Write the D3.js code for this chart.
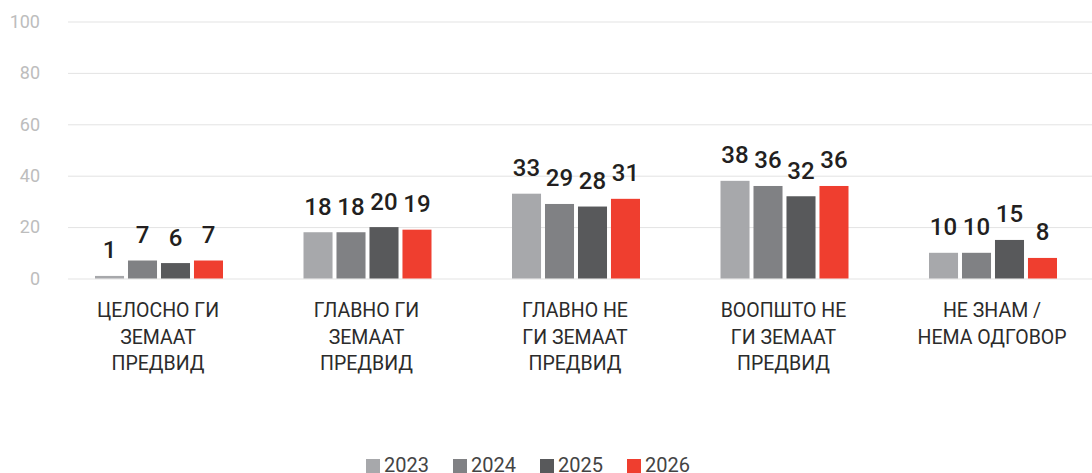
<!DOCTYPE html>
<html>
<head>
<meta charset="utf-8">
<script src="https://cdn.jsdelivr.net/npm/d3@7/dist/d3.min.js"></script>
<style>
  html, body { margin: 0; padding: 0; background: #fff; }
  svg { display: block; font-family: Roboto, "Noto Sans", sans-serif; }
</style>
</head>
<body>
<svg id="chart" width="1092" height="473"></svg>
<script>
const categories = [
  ["ЦЕЛОСНО ГИ", "ЗЕМААТ", "ПРЕДВИД"],
  ["ГЛАВНО ГИ", "ЗЕМААТ", "ПРЕДВИД"],
  ["ГЛАВНО НЕ", "ГИ ЗЕМААТ", "ПРЕДВИД"],
  ["ВООПШТО НЕ", "ГИ ЗЕМААТ", "ПРЕДВИД"],
  ["НЕ ЗНАМ /", "НЕМА ОДГОВОР"]
];
const seriesNames = ["2023", "2024", "2025", "2026"];
const values2023 = [1, 18, 33, 38, 10];
const values2024 = [7, 18, 29, 36, 10];
const values2025 = [6, 20, 28, 32, 15];
const values2026 = [7, 19, 31, 36, 8];
const yTicks = [0, 20, 40, 60, 80, 100];
const colors = ["#a7a8ab", "#808184", "#58595b", "#ef3e2f"];

const seriesValues = [values2023, values2024, values2025, values2026];
const svg = d3.select("#chart");

const y = d3.scaleLinear().domain([0, 100]).range([278.5, 21.5]);
const x0 = d3.scaleBand().domain(d3.range(categories.length)).range([54.75, 1097.25]).paddingInner(0).paddingOuter(0);
const groupW = 128;
const x1 = d3.scaleBand().domain(seriesNames).range([0, groupW]).paddingInner(0.12).paddingOuter(0);

// gridlines + y labels
const yAxis = d3.axisLeft(y).tickValues(yTicks).tickSize(-(1092 - 68)).tickPadding(28);
const gy = svg.append("g").attr("transform", "translate(68,0)").call(yAxis);
gy.select(".domain").remove();
gy.selectAll(".tick line").attr("stroke", "#e3e3e3").attr("stroke-width", 1);
gy.selectAll(".tick text").attr("fill", "#bdbdbd").style("font-size", "18px").style("font-family", "Roboto, sans-serif");

// bars
const groups = svg.append("g").selectAll("g").data(categories).join("g")
  .attr("transform", (d, i) => `translate(${x0(i) + x0.bandwidth() / 2 - groupW / 2},0)`);

groups.each(function(cat, ci) {
  const g = d3.select(this);
  seriesNames.forEach((s, si) => {
    const v = seriesValues[si][ci];
    g.append("rect")
      .attr("x", x1(s))
      .attr("y", y(v))
      .attr("width", x1.bandwidth())
      .attr("height", y(0) - y(v))
      .attr("fill", colors[si]);
    g.append("text")
      .attr("x", x1(s) + x1.bandwidth() / 2)
      .attr("y", y(v) - 17.5)
      .attr("text-anchor", "middle")
      .attr("fill", "#231f20")
      .style("font-size", "24px")
      .style("font-weight", "500")
      .text(v);
  });
});

// category labels
const labels = svg.append("g").selectAll("text").data(categories).join("text")
  .attr("text-anchor", "middle")
  .attr("fill", "#2b2b2b")
  .style("font-size", "19.5px")
  .attr("transform", (d, i) => `translate(${x0(i) + x0.bandwidth() / 2 - 1},0)`);
labels.each(function(lines) {
  d3.select(this).selectAll("tspan").data(lines).join("tspan")
    .attr("x", 0)
    .attr("y", (d, k) => 317 + k * 26.5)
    .text(d => d);
});

// legend
const legend = svg.append("g").selectAll("g").data(seriesNames).join("g")
  .attr("transform", (d, i) => `translate(${366 + i * 87},0)`);
legend.append("rect").attr("x", 0).attr("y", 459).attr("width", 14).attr("height", 14)
  .attr("fill", (d, i) => colors[i]);
legend.append("text").attr("x", 18).attr("y", 471.5)
  .attr("fill", "#444")
  .style("font-size", "20px")
  .text(d => d);
</script>
</body>
</html>
